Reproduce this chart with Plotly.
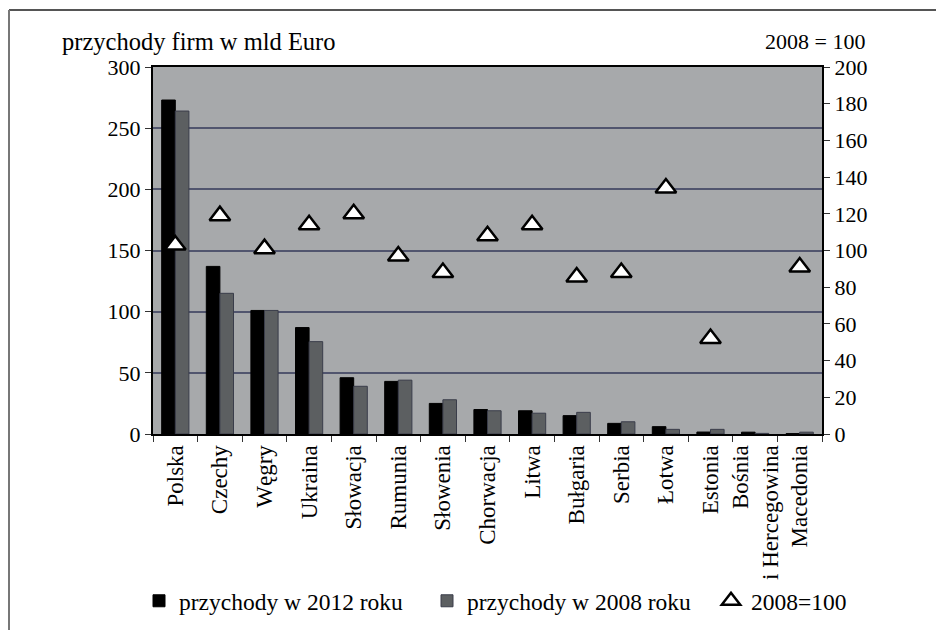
import plotly.graph_objects as go

categories = ["Polska", "Czechy", "Węgry", "Ukraina", "Słowacja", "Rumunia", "Słowenia",
              "Chorwacja", "Litwa", "Bułgaria", "Serbia", "Łotwa", "Estonia",
              "Bośnia<br>i Hercegowina", "Macedonia"]
rev_2012 = [273, 137, 101, 87, 46, 43, 25, 20, 19, 15, 8.7, 6, 1.6, 1.5, 0.3]
rev_2008 = [264, 115, 101, 75.5, 39, 44, 28, 19, 17, 17.7, 10, 3.8, 3.8, 0.5, 1.5]
index_2008 = [103, 119, 101, 114, 120, 97, 88, 108, 114, 85.5, 88, 134, 52, None, 91]

left_ticks = [0, 50, 100, 150, 200, 250, 300]
right_ticks = [0, 20, 40, 60, 80, 100, 120, 140, 160, 180, 200]

FONT = "Liberation Serif"

# screen-pixel geometry of the plot area (page body has an 8px margin)
OFF = 8
SW, SH = 944, 630
L, R, T, B = 153, 822, 67, 434
W, H = SW - OFF, SH - OFF


def px(x):
    return (x - L) / (R - L)


def py(y):
    return (B - y) / (B - T)


fig = go.Figure()
fig.add_trace(go.Bar(x=categories, y=rev_2012, name="przychody w 2012 roku", legend="legend",
                     marker=dict(color="#000000", line=dict(color="#000000", width=1))))
fig.add_trace(go.Bar(x=categories, y=rev_2008, name="przychody w 2008 roku", legend="legend2",
                     marker=dict(color="#5c5f61", line=dict(color="#3a3d4a", width=1))))
fig.add_trace(go.Scatter(x=categories, y=index_2008, name="2008=100", yaxis="y2",
                         legend="legend3", mode="markers",
                         marker=dict(symbol="triangle-up", size=18, color="white",
                                     line=dict(color="black", width=2.5))))

leg_common = dict(orientation="h", yanchor="middle", xanchor="left", y=py(601),
                  font=dict(family=FONT, size=23.5), bgcolor="rgba(0,0,0,0)", itemwidth=30)

fig.update_layout(
    width=W, height=H,
    margin=dict(l=L - OFF, r=SW - R, t=T - OFF, b=SH - B, pad=0, autoexpand=False),
    paper_bgcolor="white",
    plot_bgcolor="#a7a9ab",
    font=dict(family=FONT, size=22, color="black"),
    barmode="group", bargap=0.39, bargroupgap=0,
    showlegend=True,
    legend=dict(x=px(139), **leg_common),
    legend2=dict(x=px(427), **leg_common),
    legend3=dict(x=px(711), **leg_common),
    xaxis=dict(type="category", range=[-0.5, len(categories) - 0.5],
               tickangle=-90, ticks="outside", tickson="boundaries",
               ticklen=6, tickcolor="#333", showline=True, linecolor="black", linewidth=2,
               mirror=True, tickfont=dict(family=FONT, size=23), showgrid=False,
               automargin=False),
    yaxis=dict(range=[0, 300], tickvals=left_ticks, ticks="outside", ticklen=6,
               tickcolor="#333", showline=True, linecolor="black", linewidth=2,
               showgrid=True, gridcolor="#51556e", gridwidth=2, zeroline=False,
               tickfont=dict(family=FONT, size=22), automargin=False),
    yaxis2=dict(range=[0, 200], tickvals=right_ticks, overlaying="y", side="right",
                ticks="outside", ticklen=6, tickcolor="#333", showline=True,
                linecolor="black", linewidth=2, showgrid=False, zeroline=False,
                tickfont=dict(family=FONT, size=22), automargin=False),
    annotations=[
        dict(text="przychody firm w mld Euro", xref="paper", yref="paper",
             x=px(60), y=py(41), xanchor="left", yanchor="middle", showarrow=False,
             font=dict(family=FONT, size=24.5)),
        dict(text="2008 = 100", xref="paper", yref="paper",
             x=px(867), y=py(41), xanchor="right", yanchor="middle", showarrow=False,
             font=dict(family=FONT, size=22)),
    ],
    shapes=[
        dict(type="line", xref="paper", yref="paper", x0=px(9), x1=px(960),
             y0=py(10), y1=py(10), line=dict(color="#555", width=2)),
        dict(type="line", xref="paper", yref="paper", x0=px(9), x1=px(9),
             y0=py(10), y1=py(660), line=dict(color="#777", width=2)),
    ],
)

fig.write_html("out.html")
